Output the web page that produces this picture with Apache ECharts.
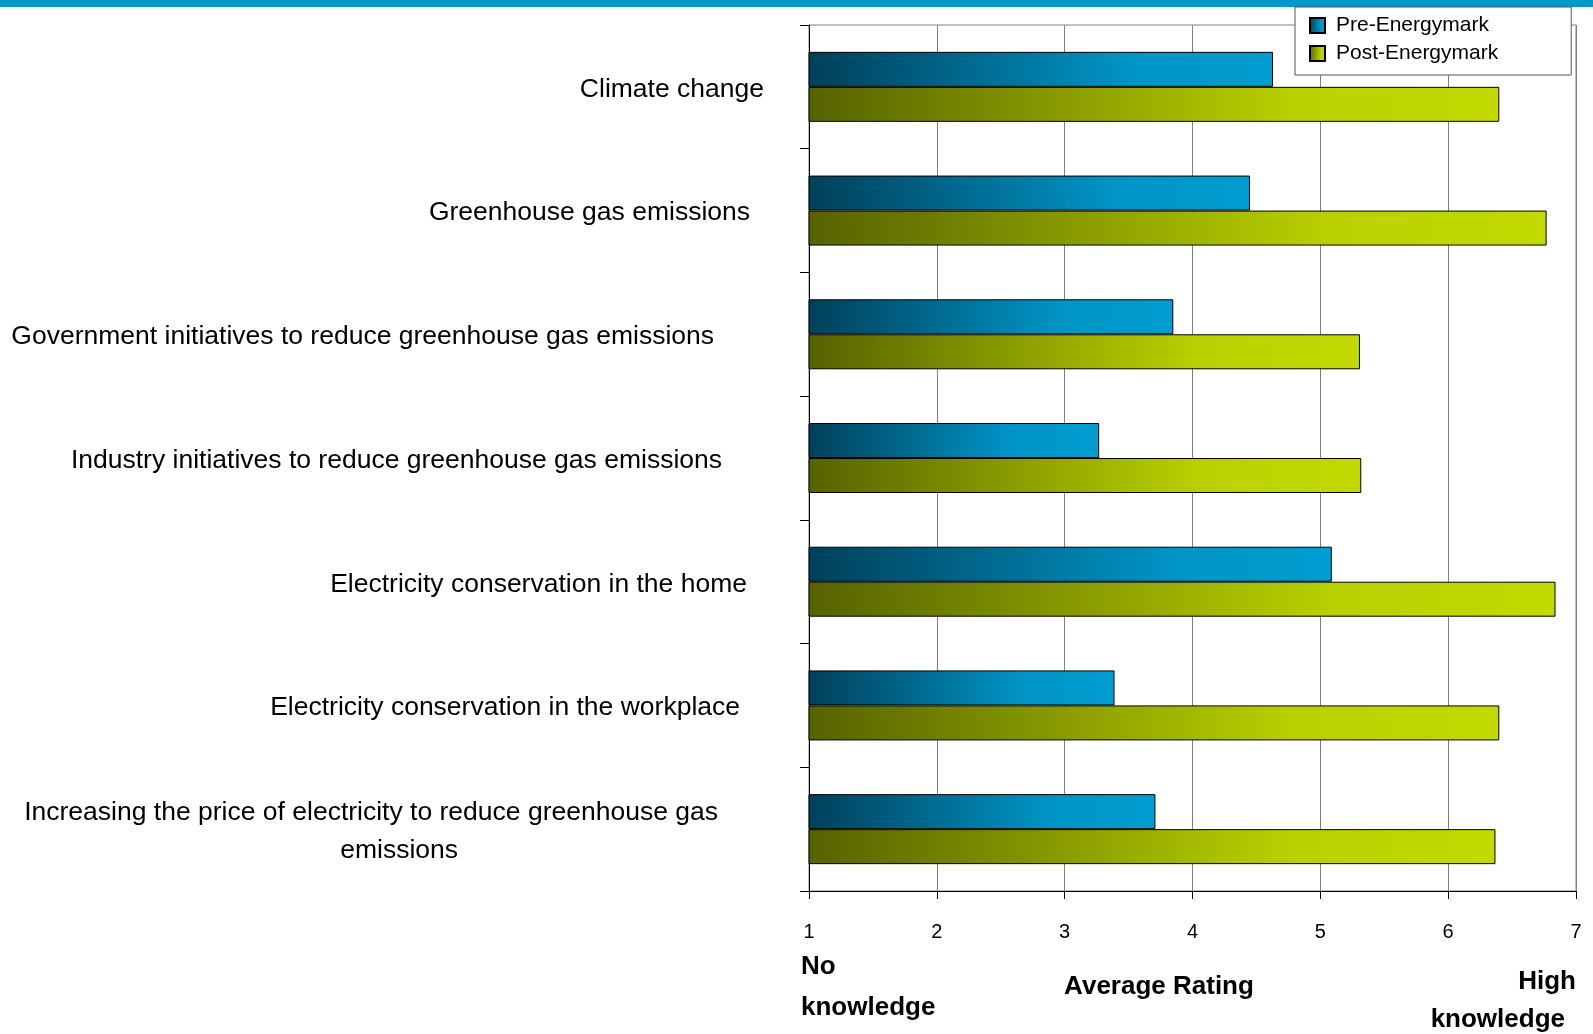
<!DOCTYPE html>
<html>
<head>
<meta charset="utf-8">
<title>Energymark knowledge ratings</title>
<script src="https://cdn.jsdelivr.net/npm/echarts@6/dist/echarts.min.js"></script>
<style>
  html, body { margin: 0; padding: 0; background: #fff; }
  #chart { width: 1593px; height: 1034px; }
</style>
</head>
<body>
<div id="chart"></div>
<script>
// data
const categories = [
  'Climate change',
  'Greenhouse gas emissions',
  'Government initiatives to reduce greenhouse gas emissions',
  'Industry initiatives to reduce greenhouse gas emissions',
  'Electricity conservation in the home',
  'Electricity conservation in the workplace',
  'Increasing the price of electricity to reduce greenhouse gas emissions'
]
const seriesNames = ['Pre-Energymark', 'Post-Energymark']
const preValues = [4.63, 4.45, 3.85, 3.27, 5.09, 3.39, 3.71]
const postValues = [6.40, 6.77, 5.31, 5.32, 6.84, 6.40, 6.37]
const ratingMin = 1
const ratingMax = 7

const FONT = '"Liberation Sans", Arial, sans-serif'
const LABEL_SIZE = 26.5

function gradient (stops) {
  return new echarts.graphic.LinearGradient(0, 0, 1, 0, stops.map((c, i) => ({
    offset: [0, 0.7, 1][i],
    color: c
  })))
}

// rich style for one category label, right padding moves it off the axis
function labelStyle (right, extra) {
  return Object.assign({ fontSize: LABEL_SIZE, color: '#000', padding: [5, right, 0, 0] }, extra || {})
}

const chart = echarts.init(document.getElementById('chart'))

const option = {
  animation: false,
  backgroundColor: '#fff',
  textStyle: { fontFamily: FONT },
  grid: {
    left: 809,
    right: 17,
    top: 25,
    bottom: 143,
    show: true,
    borderColor: '#808080',
    borderWidth: 1
  },
  legend: {
    data: seriesNames,
    orient: 'vertical',
    left: 1295,
    top: 7,
    icon: 'rect',
    itemWidth: 15,
    itemHeight: 15,
    itemGap: 7,
    padding: [8, 73, 11, 14],
    backgroundColor: '#fff',
    borderColor: '#555',
    borderWidth: 1,
    textStyle: {
      fontFamily: FONT,
      fontSize: 21,
      color: '#000',
      padding: [0, 0, 0, 6]
    }
  },
  xAxis: {
    type: 'value',
    min: ratingMin,
    max: ratingMax,
    interval: 1,
    axisLine: { show: true, lineStyle: { color: '#000', width: 1 } },
    axisTick: { show: true, length: 8, lineStyle: { color: '#000' } },
    axisLabel: {
      margin: 31,
      fontFamily: FONT,
      fontSize: 20,
      color: '#000'
    },
    splitLine: { show: true, lineStyle: { color: '#808080', width: 1 } }
  },
  yAxis: {
    type: 'category',
    data: categories,
    inverse: true,
    axisLine: { show: true, lineStyle: { color: '#000', width: 1 } },
    axisTick: { show: true, length: 9, lineStyle: { color: '#000' } },
    axisLabel: {
      margin: 0,
      fontFamily: FONT,
      fontSize: LABEL_SIZE,
      color: '#000',
      formatter: function (value, index) {
        if (index === 6) {
          return '{l1|Increasing the price of electricity to reduce greenhouse gas}\n{l2|emissions}'
        }
        return '{p' + index + '|' + value + '}'
      },
      rich: {
        p0: labelStyle(45),
        p1: labelStyle(59),
        p2: labelStyle(95),
        p3: labelStyle(87),
        p4: labelStyle(62),
        p5: labelStyle(69),
        l1: labelStyle(91, { lineHeight: 38 }),
        l2: labelStyle(351, { lineHeight: 38 })
      }
    }
  },
  series: [
    {
      name: seriesNames[0],
      type: 'bar',
      data: preValues,
      barWidth: 35,
      barGap: '0%',
      itemStyle: {
        color: gradient(['#00405a', '#0095c7', '#009dd0']),
        borderColor: '#000',
        borderWidth: 1
      }
    },
    {
      name: seriesNames[1],
      type: 'bar',
      data: postValues,
      barWidth: 35,
      barGap: '0%',
      itemStyle: {
        color: gradient(['#566200', '#b8d000', '#c2da00']),
        borderColor: '#000',
        borderWidth: 1
      }
    }
  ],
  graphic: [
    {
      type: 'rect',
      shape: { x: 0, y: 0, width: 1593, height: 7 },
      style: { fill: '#0099cc' },
      silent: true
    },
    {
      type: 'text',
      style: { x: 801, y: 967, text: 'No', font: 'bold 26px ' + FONT, fill: '#000', textAlign: 'left', textVerticalAlign: 'middle' }
    },
    {
      type: 'text',
      style: { x: 801, y: 1008, text: 'knowledge', font: 'bold 26px ' + FONT, fill: '#000', textAlign: 'left', textVerticalAlign: 'middle' }
    },
    {
      type: 'text',
      style: { x: 1159, y: 987, text: 'Average Rating', font: 'bold 26px ' + FONT, fill: '#000', textAlign: 'center', textVerticalAlign: 'middle' }
    },
    {
      type: 'text',
      style: { x: 1576, y: 982, text: 'High', font: 'bold 26px ' + FONT, fill: '#000', textAlign: 'right', textVerticalAlign: 'middle' }
    },
    {
      type: 'text',
      style: { x: 1565, y: 1020, text: 'knowledge', font: 'bold 26px ' + FONT, fill: '#000', textAlign: 'right', textVerticalAlign: 'middle' }
    }
  ]
}

chart.setOption(option)
</script>
</body>
</html>
